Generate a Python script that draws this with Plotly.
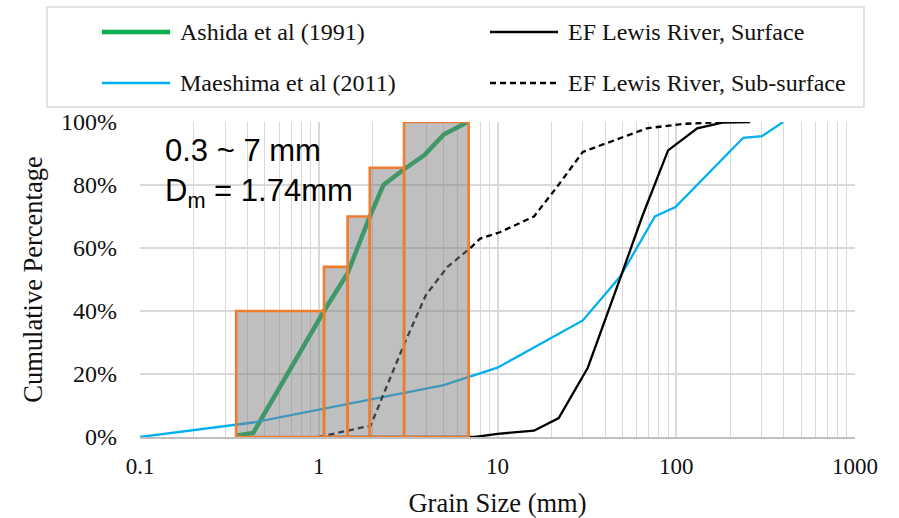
import plotly.graph_objects as go

# ---------------- data ----------------
ashida_x = [0.35, 0.43, 1.07, 1.45, 1.93, 2.3, 3.0, 3.9, 5.0, 6.8]
ashida_y = [0.5, 1.3, 40, 52, 70, 80, 85, 89.5, 96, 100]

maeshima_x = [0.1, 0.43, 5, 6.8, 10, 30, 48.7, 76, 99, 237, 302, 396]
maeshima_y = [0, 4.6, 16.5, 19, 22, 37, 51, 70, 73, 95, 95.5, 100]

surface_x = [1, 7.5, 10, 16, 22, 32, 49, 64.5, 90, 131, 181, 259]
surface_y = [0, 0, 1, 2, 6, 22, 51, 70, 91, 98, 99.8, 100]

subsurface_x = [1, 1.47, 1.95, 2.98, 3.97, 5.25, 7.06, 8, 10.3, 16, 21.6, 30, 37.5, 50, 68.6, 109, 183]
subsurface_y = [0, 2, 3.6, 29, 45, 54, 60, 63, 65, 70, 79.5, 90.5, 92.5, 95, 98, 99.4, 100]

bin_edges = [0.345, 1.07, 1.45, 1.93, 3.0, 6.9]
bin_heights = [40, 54, 70, 85.5, 100]

x_tickvals = [0.1, 1, 10, 100, 1000]
x_ticktext = ["0.1", "1", "10", "100", "1000"]
y_tickvals = [0, 20, 40, 60, 80, 100]
y_ticktext = ["0%", "20%", "40%", "60%", "80%", "100%"]

# ---------------- layout helpers ----------------
W, H = 899, 518
L, R, T, B = 140, 44, 122, 81
PW, PH = W - L - R, H - T - B


def px(x):
    return (x - L) / PW


def py(y):
    return (H - B - y) / PH


SERIF = "Times New Roman, Liberation Serif, Tinos, serif"
SANS = "Arial, Liberation Sans, sans-serif"

GREEN = "#00B050"
BLUE = "#00B0F0"
ORANGE = "#ED7D31"
GRID = "#d9d9d9"
TXT = "#111"

fig = go.Figure()

fig.add_trace(go.Scatter(x=ashida_x, y=ashida_y, mode="lines", name="Ashida et al (1991)",
                         line=dict(color=GREEN, width=4.5), showlegend=False))
fig.add_trace(go.Scatter(x=maeshima_x, y=maeshima_y, mode="lines", name="Maeshima et al (2011)",
                         line=dict(color=BLUE, width=2.3), showlegend=False))
fig.add_trace(go.Scatter(x=surface_x, y=surface_y, mode="lines", name="EF Lewis River, Surface",
                         line=dict(color="black", width=2.3), showlegend=False))
fig.add_trace(go.Scatter(x=subsurface_x, y=subsurface_y, mode="lines", name="EF Lewis River, Sub-surface",
                         line=dict(color="black", width=2.3, dash="6px,4px"), showlegend=False))

# histogram-like boxes drawn on top (semi transparent)
for i, h in enumerate(bin_heights):
    x0, x1 = bin_edges[i], bin_edges[i + 1]
    fig.add_trace(go.Scatter(x=[x0, x1, x1, x0, x0], y=[0, 0, h, h, 0], mode="lines",
                             fill="toself", fillcolor="rgba(128,128,128,0.5)",
                             line=dict(color=ORANGE, width=2.6), showlegend=False,
                             hoverinfo="skip"))

shapes = []
annotations = []

# legend box
shapes.append(dict(type="rect", xref="paper", yref="paper",
                   x0=px(47), x1=px(864), y0=py(107), y1=py(7),
                   line=dict(color=GRID, width=1.5), fillcolor="rgba(0,0,0,0)"))

legend_items = [
    ("Ashida et al (1991)", dict(color=GREEN, width=4.5), 102, 170, 32),
    ("Maeshima et al (2011)", dict(color=BLUE, width=2.5), 102, 170, 83),
    ("EF Lewis River, Surface", dict(color="black", width=2.3), 490, 558, 32),
    ("EF Lewis River, Sub-surface", dict(color="black", width=2.3, dash="6px,4px"), 490, 558, 83),
]
for text, ln, lx0, lx1, ly in legend_items:
    shapes.append(dict(type="line", xref="paper", yref="paper",
                       x0=px(lx0), x1=px(lx1), y0=py(ly), y1=py(ly), line=ln))
    annotations.append(dict(text=text, xref="paper", yref="paper", x=px(lx1 + 8), y=py(ly),
                            xanchor="left", yanchor="middle", showarrow=False,
                            font=dict(family=SERIF, size=24, color=TXT)))

annotations.append(dict(text="0.3 ~ 7 mm", xref="paper", yref="paper", x=px(163), y=py(150),
                        xanchor="left", yanchor="middle", showarrow=False,
                        font=dict(family=SANS, size=31, color="black")))
annotations.append(dict(text="D<sub>m</sub> = 1.74mm", xref="paper", yref="paper", x=px(163), y=py(193),
                        xanchor="left", yanchor="middle", showarrow=False,
                        font=dict(family=SANS, size=31, color="black")))

fig.update_layout(
    width=W, height=H,
    margin=dict(l=L, r=R, t=T, b=B, autoexpand=False),
    paper_bgcolor="white", plot_bgcolor="white",
    font=dict(family=SERIF, size=23, color=TXT),
    showlegend=False,
    shapes=shapes, annotations=annotations,
    xaxis=dict(type="log", range=[-1, 3], tickvals=x_tickvals, ticktext=x_ticktext,
               automargin=False,
               showgrid=True, gridcolor=GRID, gridwidth=1.6,
               minor=dict(dtick="D1", showgrid=True, gridcolor=GRID, gridwidth=1.2),
               showline=True, linecolor="#bfbfbf", linewidth=2, mirror=False,
               zeroline=False, ticks="", ticklabelstandoff=7,
               tickfont=dict(family=SERIF, size=23, color=TXT),
               title=dict(text="Grain Size (mm)", standoff=20,
                          font=dict(family=SERIF, size=26.5, color=TXT))),
    yaxis=dict(range=[0, 100], tickvals=y_tickvals, ticktext=y_ticktext,
               automargin=False,
               showgrid=True, gridcolor=GRID, gridwidth=2,
               zeroline=False, showline=False, ticks="", ticklabelstandoff=22,
               tickfont=dict(family=SERIF, size=24, color=TXT),
               title=dict(text="Cumulative Percentage", standoff=10,
                          font=dict(family=SERIF, size=26.5, color=TXT))),
)

fig.write_html("out.html")
